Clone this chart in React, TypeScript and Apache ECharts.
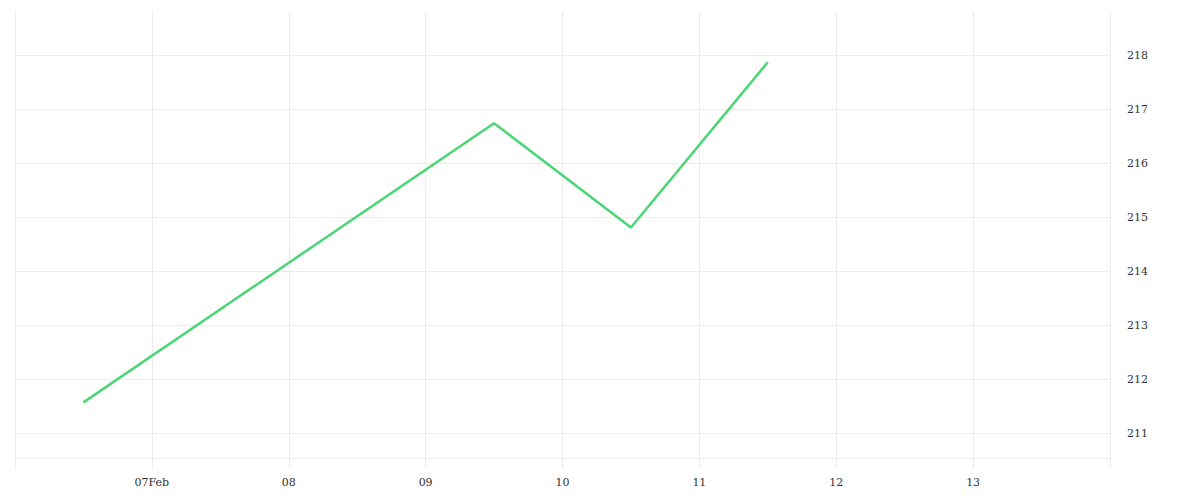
import { useEffect, useRef } from 'react';
import * as echarts from 'echarts';

// day of February (12:00 = .5) and price
const days = [6.5, 9.5, 10.5, 11.5];
const prices = [211.57, 216.74, 214.81, 217.87];

// x tick labels keyed by day of February
const tickDays = [7, 8, 9, 10, 11, 12, 13];
const tickLabels = ['07Feb', '08', '09', '10', '11', '12', '13'];

const GRID = '#ececec';
const TEXT = '#333';
const LINE = '#4bd675';
const FONT = 'DejaVu Serif';

export default function App() {
  const ref = useRef<HTMLDivElement | null>(null);

  useEffect(() => {
    document.body.style.margin = '0';
    if (!ref.current) return;
    const chart = echarts.init(ref.current, undefined, { renderer: 'svg' });

    chart.setOption({
      animation: false,
      grid: { top: 12, right: 90, bottom: 42, left: 15 },
      xAxis: {
        type: 'value',
        min: 6,
        max: 14,
        interval: 1,
        axisLine: { lineStyle: { color: GRID } },
        axisTick: { show: true, length: 10, lineStyle: { color: GRID } },
        splitLine: { show: true, lineStyle: { color: GRID } },
        axisLabel: {
          color: TEXT,
          fontSize: 11,
          fontFamily: FONT,
          margin: 19,
          formatter: (v: number) => {
            const i = tickDays.indexOf(v);
            return i >= 0 ? tickLabels[i] : '';
          },
        },
      },
      yAxis: {
        type: 'value',
        position: 'right',
        min: 210.54,
        max: 218.8,
        splitNumber: 8,
        axisLine: { show: true, lineStyle: { color: GRID } },
        axisTick: { show: false },
        splitLine: { show: true, showMaxLine: false, lineStyle: { color: GRID } },
        axisLabel: {
          color: TEXT,
          fontSize: 11,
          fontFamily: FONT,
          margin: 17,
          formatter: (v: number) => (Number.isInteger(v) ? String(v) : ''),
        },
      },
      series: [
        {
          type: 'line',
          data: days.map((d, i) => [d, prices[i]]),
          showSymbol: false,
          lineStyle: { color: LINE, width: 2.5 },
        },
      ],
    });

    return () => chart.dispose();
  }, []);

  return <div ref={ref} style={{ width: 1200, height: 500 }} />;
}
